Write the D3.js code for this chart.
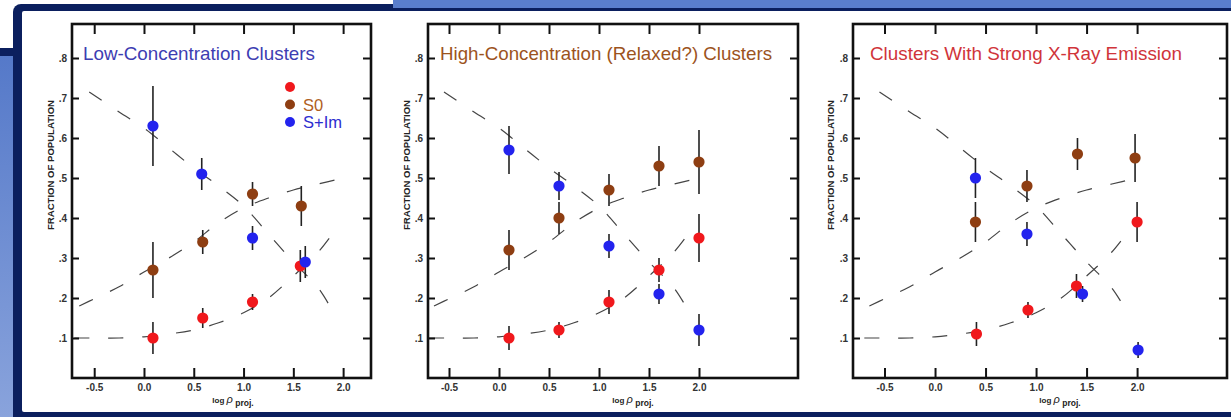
<!DOCTYPE html>
<html lang="en">
<head>
    <meta charset="UTF-8">
    <title>Galaxy Fractions</title>
    <script src="https://d3js.org/d3.v7.min.js"></script>
    <style>
        body { margin: 0; background: #fff; }
        svg { display: block; }
    </style>
</head>
<body>
    <svg id="chart" width="1231" height="417"></svg>
    <script>
    // tick values and labels
    const xTicks = [-0.5, 0, 0.5, 1.0, 1.5, 2.0];
    const xTickLabels = ["-0.5", "0.0", "0.5", "1.0", "1.5", "2.0"];
    const yTicks = [0.1, 0.2, 0.3, 0.4, 0.5, 0.6, 0.7, 0.8];
    const yTickLabels = [".1", ".2", ".3", ".4", ".5", ".6", ".7", ".8"];

    // model curves (dashed), same in every panel: [log rho, fraction]
    const curveE = [[-0.7,0.1],[-0.5,0.1],[-0.25,0.1],[0,0.103],[0.25,0.11],[0.5,0.12],[0.75,0.138],[1.0,0.163],[1.25,0.2],[1.5,0.255],[1.75,0.315],[1.95,0.38]];
    const curveS0 = [[-0.65,0.18],[-0.5,0.198],[-0.25,0.228],[0,0.265],[0.25,0.3],[0.5,0.34],[0.75,0.388],[1.0,0.425],[1.25,0.45],[1.5,0.47],[1.75,0.485],[2.0,0.5]];
    const curveS = [[-0.55,0.715],[-0.25,0.665],[0,0.625],[0.25,0.575],[0.5,0.525],[0.75,0.48],[1.0,0.43],[1.25,0.36],[1.5,0.29],[1.75,0.225],[1.9,0.165]];

    // observed points: [log rho, fraction, error]
    const lowE  = [[0.09,0.10,0.04],[0.59,0.15,0.025],[1.09,0.19,0.02],[1.57,0.28,0.04]];
    const lowS0 = [[0.09,0.27,0.07],[0.59,0.34,0.03],[1.09,0.46,0.03],[1.58,0.43,0.05]];
    const lowS  = [[0.09,0.63,0.10],[0.58,0.51,0.04],[1.09,0.35,0.03],[1.62,0.29,0.04]];

    const highE  = [[0.1,0.10,0.03],[0.6,0.12,0.02],[1.1,0.19,0.03],[1.6,0.27,0.03],[2.0,0.35,0.06]];
    const highS0 = [[0.1,0.32,0.05],[0.6,0.40,0.04],[1.1,0.47,0.04],[1.6,0.53,0.05],[2.0,0.54,0.08]];
    const highS  = [[0.1,0.57,0.06],[0.6,0.48,0.035],[1.1,0.33,0.03],[1.6,0.21,0.025],[2.0,0.12,0.04]];

    const xrayE  = [[0.41,0.11,0.03],[0.92,0.17,0.02],[1.40,0.23,0.03],[2.0,0.39,0.05]];
    const xrayS0 = [[0.40,0.39,0.05],[0.91,0.48,0.04],[1.41,0.56,0.04],[1.98,0.55,0.06]];
    const xrayS  = [[0.40,0.50,0.05],[0.91,0.36,0.03],[1.46,0.21,0.02],[2.01,0.07,0.02]];

    const titles = ["Low-Concentration Clusters", "High-Concentration (Relaxed?) Clusters", "Clusters With Strong X-Ray Emission"];
    const legendLabels = ["", "S0", "S+Im"];

    const colE = "#f0181c", colS0 = "#8e3e12", colS = "#2323ee";

    const svg = d3.select("#chart");

    // slide frame
    const defs = svg.append("defs");
    const grad = defs.append("linearGradient").attr("id", "side").attr("x1", 0).attr("y1", 0).attr("x2", 0).attr("y2", 1);
    grad.append("stop").attr("offset", "0%").attr("stop-color", "#5579c9");
    grad.append("stop").attr("offset", "100%").attr("stop-color", "#89a3dc");
    svg.append("rect").attr("x", 0).attr("y", 55).attr("width", 16).attr("height", 362).attr("fill", "url(#side)");
    svg.append("rect").attr("x", 0).attr("y", 48).attr("width", 16).attr("height", 8).attr("fill", "#0b1f5e");
    svg.append("rect").attr("x", 13).attr("y", 4).attr("width", 1240).attr("height", 430).attr("rx", 8).attr("fill", "#0b1f5e");
    svg.append("rect").attr("x", 393).attr("y", 0).attr("width", 838).attr("height", 8).attr("fill", "#5a7ecd");
    svg.append("rect").attr("x", 22).attr("y", 11).attr("width", 1215).attr("height", 401).attr("rx", 2).attr("fill", "#fff");

    const panels = [
        { left: 72, right: 371, xd: [-0.723, 2.28], data: [lowE, lowS0, lowS], tcol: "#3d3db2", tx: 83, tw: 232, ytx: 51, axx: 233, legend: true },
        { left: 428, right: 798, xd: [-0.71, 2.99], data: [highE, highS0, highS], tcol: "#9c531d", tx: 440, tw: 332, ytx: 407, axx: 633, legend: false },
        { left: 853, right: 1227, xd: [-0.812, 2.89], data: [xrayE, xrayS0, xrayS], tcol: "#d0343a", tx: 870, tw: 312, ytx: 831, axx: 1060, legend: false }
    ];
    const plotTop = 24, plotBottom = 378;
    const cols = [colE, colS0, colS];

    panels.forEach((p, i) => {
        const g = svg.append("g");
        const x = d3.scaleLinear().domain(p.xd).range([p.left, p.right]);
        const y = d3.scaleLinear().domain([0, 0.885]).range([plotBottom, plotTop]);

        // dashed model curves
        const line = d3.line().x(d => x(d[0])).y(d => y(d[1])).curve(d3.curveCatmullRom);
        [curveE, curveS0, curveS].forEach(c => {
            g.append("path").attr("d", line(c)).attr("fill", "none")
                .attr("stroke", "#444").attr("stroke-width", 1.2)
                .attr("stroke-dasharray", "15,19");
        });

        // axes
        const bx = g.append("g").attr("transform", `translate(0,${plotBottom})`)
            .call(d3.axisBottom(x).tickValues(xTicks).tickSize(-10).tickPadding(6)
                .tickFormat((d, k) => xTickLabels[k]));
        const tx = g.append("g").attr("transform", `translate(0,${plotTop})`)
            .call(d3.axisTop(x).tickValues(xTicks).tickSize(-10).tickFormat(""));
        const ly = g.append("g").attr("transform", `translate(${p.left},0)`)
            .call(d3.axisLeft(y).tickValues(yTicks).tickSize(-7).tickPadding(5)
                .tickFormat((d, k) => yTickLabels[k]));
        const ry = g.append("g").attr("transform", `translate(${p.right},0)`)
            .call(d3.axisRight(y).tickValues(yTicks).tickSize(-8).tickFormat(""));
        [bx, tx, ly, ry].forEach(a => {
            a.select(".domain").remove();
            a.selectAll(".tick line").attr("stroke", "#111").attr("stroke-width", 2);
            a.selectAll(".tick text").attr("fill", "#333").attr("font-family", "Liberation Sans, Arial, sans-serif")
                .attr("font-weight", "bold").attr("font-size", 10);
        });

        g.append("rect").attr("x", p.left).attr("y", plotTop)
            .attr("width", p.right - p.left).attr("height", plotBottom - plotTop)
            .attr("fill", "none").attr("stroke", "#111").attr("stroke-width", 2.6);

        // error bars and points
        p.data.forEach((series, s) => {
            g.selectAll(null).data(series).enter().append("line")
                .attr("x1", d => x(d[0])).attr("x2", d => x(d[0]))
                .attr("y1", d => y(d[1] + d[2])).attr("y2", d => y(d[1] - d[2]))
                .attr("stroke", "#222").attr("stroke-width", 1.6);
        });
        p.data.forEach((series, s) => {
            g.selectAll(null).data(series).enter().append("circle")
                .attr("cx", d => x(d[0])).attr("cy", d => y(d[1]))
                .attr("r", 5.6).attr("fill", cols[s]);
        });

        // title
        g.append("text").attr("x", p.tx).attr("y", 60)
            .attr("font-family", "Liberation Sans, Arial, sans-serif").attr("font-size", 18.5)
            .attr("fill", p.tcol).attr("textLength", p.tw).attr("lengthAdjust", "spacingAndGlyphs")
            .text(titles[i]);

        // y axis title
        g.append("text").attr("transform", `translate(${p.ytx + 3},165) rotate(-90)`)
            .attr("text-anchor", "middle").attr("font-family", "Liberation Sans, Arial, sans-serif")
            .attr("font-weight", "bold").attr("font-size", 8.5).attr("fill", "#222")
            .attr("textLength", 130).attr("lengthAdjust", "spacingAndGlyphs")
            .text("FRACTION OF POPULATION");

        // x axis title
        const xt = g.append("text").attr("x", p.axx).attr("y", 403).attr("text-anchor", "middle")
            .attr("font-family", "Liberation Sans, Arial, sans-serif").attr("fill", "#222");
        xt.append("tspan").attr("font-size", 8).attr("font-weight", "bold").text("log ");
        xt.append("tspan").attr("font-size", 11).attr("font-style", "italic").text("ρ");
        xt.append("tspan").attr("font-size", 8.5).attr("font-weight", "bold").attr("dy", 3).text(" proj.");

        // legend
        if (p.legend) {
            cols.forEach((c, k) => {
                g.append("circle").attr("cx", 290).attr("cy", 87 + k * 17.5).attr("r", 5).attr("fill", c);
                g.append("text").attr("x", 303).attr("y", 87 + k * 17.5 + 6)
                    .attr("font-family", "Liberation Sans, Arial, sans-serif").attr("font-size", 16.5)
                    .attr("fill", k === 1 ? "#b0601e" : "#2d2dd0").text(legendLabels[k]);
            });
        }
    });
    </script>
</body>
</html>
